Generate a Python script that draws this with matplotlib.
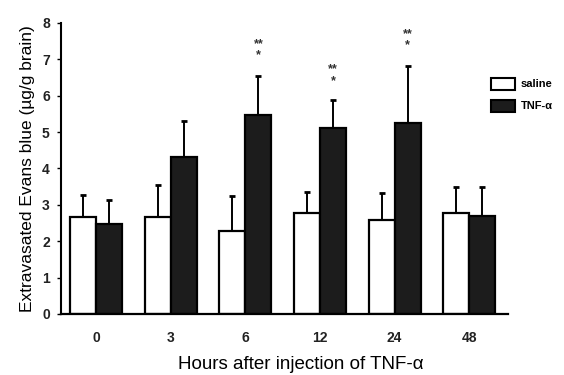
import matplotlib
matplotlib.use('Agg')
import matplotlib.pyplot as plt
import numpy as np
from matplotlib.patches import Patch

plt.rcParams['font.family'] = ['Liberation Sans', 'DejaVu Sans']

# data
hours = ['0', '3', '6', '12', '24', '48']
saline = [2.65, 2.67, 2.28, 2.76, 2.57, 2.76]
saline_err = [0.62, 0.88, 0.97, 0.58, 0.74, 0.72]
tnf = [2.48, 4.31, 5.47, 5.12, 5.26, 2.68]
tnf_err = [0.64, 1.0, 1.08, 0.77, 1.55, 0.8]
stars_top = ['', '', '**', '**', '**', '']
stars_pos = [0, 0, 7.42, 6.73, 7.70, 0]

x = np.arange(len(hours))
w = 0.35

fig = plt.figure(figsize=(5.64, 3.75), dpi=100)
ax = fig.add_axes([0.108, 0.163, 0.793, 0.776])

ax.bar(x - w / 2, saline, w, color='white', edgecolor='black', linewidth=1.6, zorder=2)
ax.bar(x + w / 2, tnf, w, color='#1c1c1c', edgecolor='black', linewidth=1.6, zorder=2)
ax.errorbar(x - w / 2, saline, yerr=[np.zeros(len(x)), saline_err], fmt='none',
            ecolor='black', elinewidth=1.4, capsize=2, capthick=2, zorder=1)
ax.errorbar(x + w / 2, tnf, yerr=[np.zeros(len(x)), tnf_err], fmt='none',
            ecolor='black', elinewidth=1.4, capsize=2, capthick=2, zorder=1)

# significance marks
for i in range(len(x)):
    if stars_top[i]:
        ax.text(x[i] + w / 2, stars_pos[i], stars_top[i], ha='center', va='center',
                fontsize=9, fontweight='bold', color='#333333')
        ax.text(x[i] + w / 2, stars_pos[i] - 0.32, '*', ha='center', va='center',
                fontsize=9, fontweight='bold', color='#333333')

ax.set_xlim(-0.47, 5.52)
ax.set_ylim(0, 8)
ax.set_yticks(range(0, 9))
ax.set_xticks(x)
ax.set_xticklabels(hours)
ax.tick_params(axis='x', length=0, pad=12, labelsize=10)
ax.tick_params(axis='y', length=3, width=1, pad=5, labelsize=10)
for lab in ax.get_xticklabels() + ax.get_yticklabels():
    lab.set_fontweight('bold')
    lab.set_color('#222222')
ax.spines['top'].set_visible(False)
ax.spines['right'].set_visible(False)
ax.spines['left'].set_linewidth(1.5)
ax.spines['bottom'].set_linewidth(1.6)

ax.set_ylabel('Extravasated Evans blue (µg/g brain)', fontsize=12.5, labelpad=5)
fig.text(0.534, 0.016, 'Hours after injection of TNF-α', ha='center', fontsize=13.5)

handles = [Patch(facecolor='white', edgecolor='black', linewidth=1.5, label='saline'),
           Patch(facecolor='#1c1c1c', edgecolor='black', linewidth=1.5, label='TNF-α')]
fig.legend(handles=handles, loc='upper left', bbox_to_anchor=(0.862, 0.805),
           frameon=False, handlelength=2.2, handleheight=1.3,
           handletextpad=0.5, labelspacing=0.9, borderaxespad=0,
           prop={'weight': 'bold', 'size': 8})

fig.savefig('out.png', dpi=100)
